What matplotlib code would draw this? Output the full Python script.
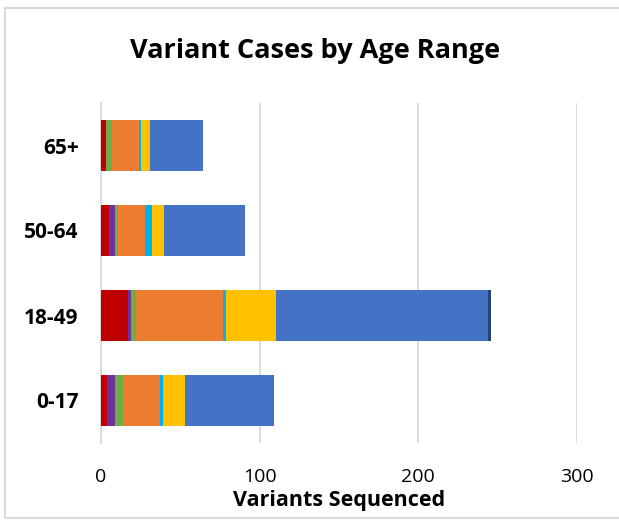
import matplotlib
matplotlib.use("Agg")
import matplotlib.pyplot as plt
from matplotlib.patches import Rectangle
import numpy as np

categories = ["0-17", "18-49", "50-64", "65+"]
series_colors = ["#C00000", "#7030A0", "#70AD47", "#ED7D31", "#00B0F0", "#FFC000", "#4472C4", "#264478"]
s_red = [4, 17, 5, 3]
s_purple = [5, 2, 4, 0]
s_green = [5, 3, 2, 4]
s_orange = [23, 55, 17, 17]
s_lightblue = [2, 2, 4, 1]
s_yellow = [14, 31, 8, 6]
s_blue = [56, 134, 51, 33]
s_darkblue = [0, 2, 0, 0]
series = [s_red, s_purple, s_green, s_orange, s_lightblue, s_yellow, s_blue, s_darkblue]
xticks = [0, 100, 200, 300]

plt.rcParams['font.family'] = ['Open Sans', 'DejaVu Sans']

fig = plt.figure(figsize=(6.19, 5.2), dpi=100)
fig.patches.append(Rectangle((5/619, 2/520), 1.0, 510/520, transform=fig.transFigure,
                             fill=False, edgecolor="#D9D9D9", linewidth=1.5))
ax = fig.add_axes([101/619, 77/520, 476/619, 340/520])

y = np.arange(len(categories))
left = np.zeros(len(categories))
for vals, col in zip(series, series_colors):
    v = np.array(vals, dtype=float)
    ax.barh(y, v, left=left, height=0.59, color=col, edgecolor="none", zorder=3)
    left += v

ax.set_xlim(0, 300)
ax.set_ylim(-0.5, 3.5)
ax.set_xticks(xticks)
ax.set_xticklabels([str(t) for t in xticks], fontsize=14, color="#000000")
ax.set_yticks(y)
ax.set_yticklabels(categories, fontsize=15, fontweight="bold")
ax.tick_params(axis='x', length=0, pad=18)
ax.tick_params(axis='y', length=0, pad=16)
ax.grid(axis='x', color="#D9D9D9", linewidth=1.3, zorder=0)
for s in ["top", "right", "bottom"]:
    ax.spines[s].set_visible(False)
ax.spines["left"].set_color("#D9D9D9")
ax.spines["left"].set_linewidth(1.3)

ax.set_xlabel("Variants Sequenced", fontsize=15.5, fontweight="bold", labelpad=3)
fig.text(315/619, 1 - 51/520, "Variant Cases by Age Range", ha="center", va="center",
         fontsize=19.5, fontweight="bold")

fig.savefig("out.png", dpi=100)
